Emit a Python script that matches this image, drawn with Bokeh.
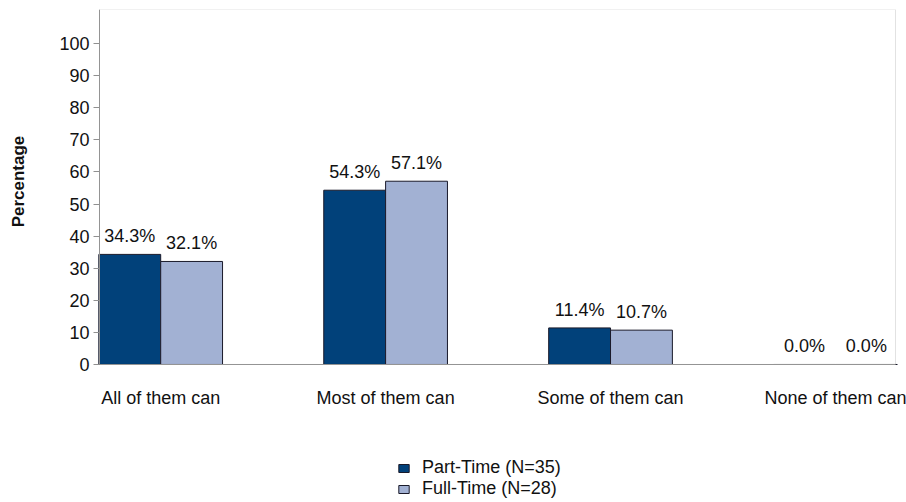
import math
from bokeh.plotting import figure
from bokeh.models import (FixedTicker, Legend, LegendItem, ColumnDataSource, Range1d,
                          BoxAnnotation, Label)
from bokeh.embed import file_html
from bokeh.resources import INLINE
from bokeh.core.properties import value

categories = ["All of them can", "Most of them can", "Some of them can", "None of them can"]
part_time = [34.3, 54.3, 11.4, 0.0]
full_time = [32.1, 57.1, 10.7, 0.0]
series_names = ["Part-Time (N=35)", "Full-Time (N=28)"]
y_ticks = [0, 10, 20, 30, 40, 50, 60, 70, 80, 90, 100]
y_title = "Percentage"

DARK = "#01417A"
LIGHT = "#A2B1D3"
FONT = "Liberation Sans"
FS = "18px"
bw = 0.275
X0, X1 = -0.272, 3.267      # visible plot box, data units
YTOP = 110.6

# the frame extends beyond the plot box so that the legend, axis title and labels fit inside it
p = figure(frame_width=906, frame_height=490, output_backend="svg", toolbar_location=None,
           x_range=Range1d(-0.7122, 3.3159), y_range=Range1d(-42.06, YTOP),
           min_border_left=0, min_border_right=0, min_border_top=9, min_border_bottom=0)
p.background_fill_color = "white"
p.border_fill_color = "white"
p.outline_line_color = None
p.xgrid.visible = False
p.ygrid.visible = False

box = BoxAnnotation(left=X0, right=X1, bottom=0, fill_alpha=0, line_color="#A0A0A0", line_width=1)
p.add_layout(box)

xs = list(range(len(categories)))
src1 = ColumnDataSource(dict(x=[x - bw / 2 for x in xs], top=part_time,
                             lab=[f"{v:.1f}%" for v in part_time]))
src2 = ColumnDataSource(dict(x=[x + bw / 2 for x in xs], top=full_time,
                             lab=[f"{v:.1f}%" for v in full_time]))
r1 = p.vbar(x="x", top="top", width=bw, bottom=0, source=src1, fill_color=DARK, line_color="#1a1a2a", line_width=1)
r2 = p.vbar(x="x", top="top", width=bw, bottom=0, source=src2, fill_color=LIGHT, line_color="#1a1a2a", line_width=1)
for s in (src1, src2):
    p.text(x="x", y="top", text="lab", source=s, text_align="center", text_baseline="bottom",
           y_offset=-8, text_font=value(FONT), text_font_size=FS, text_color="#111111")

# y axis drawn at the left edge of the plot box
p.yaxis.fixed_location = X0
p.yaxis.bounds = (0, YTOP)
p.yaxis.ticker = FixedTicker(ticks=y_ticks)
p.yaxis.major_label_text_font = FONT
p.yaxis.major_label_text_font_size = FS
p.yaxis.major_label_text_color = "#111111"
p.yaxis.axis_line_color = "#909090"
p.yaxis.major_tick_line_color = "#909090"
p.yaxis.major_tick_out = 6
p.yaxis.major_tick_in = 0
p.yaxis.minor_tick_line_color = None
p.yaxis.major_label_standoff = 4

ylab = Label(x=-0.632, y=57, text=y_title, angle=math.pi / 2, text_align="center",
             text_baseline="middle", text_font=FONT, text_font_style="bold",
             text_font_size="17px", text_color="#111111")
p.add_layout(ylab)

# x axis drawn on the zero line
p.xaxis.fixed_location = 0
p.xaxis.bounds = (X0, X1)
p.xaxis.ticker = FixedTicker(ticks=xs)
p.xaxis.major_label_overrides = {i: c for i, c in enumerate(categories)}
p.xaxis.major_label_text_font = FONT
p.xaxis.major_label_text_font_size = FS
p.xaxis.major_label_text_color = "#111111"
p.xaxis.major_tick_line_color = None
p.xaxis.minor_tick_line_color = None
p.xaxis.axis_line_color = "#909090"
p.xaxis.major_label_standoff = 18

legend = Legend(items=[LegendItem(label=series_names[0], renderers=[r1]),
                       LegendItem(label=series_names[1], renderers=[r2])],
                location=(397, 0), orientation="vertical", margin=0,
                label_text_font=FONT, label_text_font_size=FS, label_text_color="#111111",
                glyph_width=13, glyph_height=10, spacing=0, padding=0, label_height=16,
                label_standoff=12, border_line_color=None, background_fill_alpha=0)
p.add_layout(legend, "center")

open("out.html", "w").write(file_html(p, INLINE))
